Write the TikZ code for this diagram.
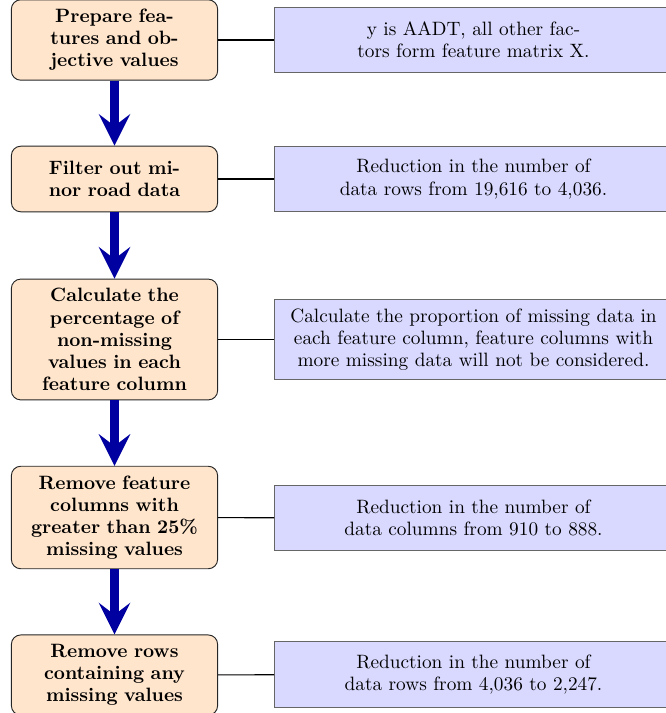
\documentclass[tikz,border=0pt]{standalone}
\usetikzlibrary{arrows.meta}
\definecolor{arrowblue}{RGB}{0,0,160}
\begin{document}
\begin{tikzpicture}[x=0.5333pt,y=-0.5333pt,
  every node/.style={font=\fontsize{10.3}{11.8}\selectfont},
  stepbox/.style={draw=black!85, fill=orange!20, rounded corners=5pt, text width=100pt,
    align=center, inner sep=5pt, minimum height=35pt, font=\fontsize{10.3}{11.8}\selectfont\bfseries, line width=0.5pt},
  notebox/.style={draw=black!60, fill=blue!15, text width=202pt,
    align=center, inner sep=5pt, minimum height=35pt, line width=0.6pt},
  flowarrow/.style={draw=arrowblue, line width=5.33pt,
    -{Stealth[length=17pt,width=17pt,inset=6.5pt,line width=0pt]}},
  link/.style={draw=black, line width=0.6pt}]
\useasboundingbox (0,0) rectangle (665,713);
\node[stepbox] (s1) at (114.5,40) {Prepare fea-\\tures and ob-\\jective values};
\node[stepbox] (s2) at (114.5,179) {Filter out mi-\\nor road data};
\node[stepbox] (s3) at (114.5,339.5) {Calculate the\\percentage of\\non-missing\\values in each\\feature column};
\node[stepbox] (s4) at (114.5,517.5) {Remove feature\\columns with\\greater than 25\%\\missing values};
\node[stepbox] (s5) at (114.5,675) {Remove rows\\containing any\\missing values};
\node[notebox] (n1) at (473.5,40) {y is AADT, all other fac-\\tors form feature matrix X.};
\node[notebox] (n2) at (473.5,179) {Reduction in the number of\\data rows from 19,616 to 4,036.};
\node[notebox] (n3) at (473.5,339.5) {Calculate the proportion of missing data in\\each feature column, feature columns with\\more missing data will not be considered.};
\node[notebox] (n4) at (473.5,518) {Reduction in the number of\\data columns from 910 to 888.};
\node[notebox] (n5) at (473.5,674.5) {Reduction in the number of\\data rows from 4,036 to 2,247.};
\foreach \a/\b in {s1/s2,s2/s3,s3/s4,s4/s5} \draw[flowarrow] (\a) -- (\b);
\foreach \i in {1,...,5} \draw[link] (s\i) -- (n\i);
\end{tikzpicture}
\end{document}
